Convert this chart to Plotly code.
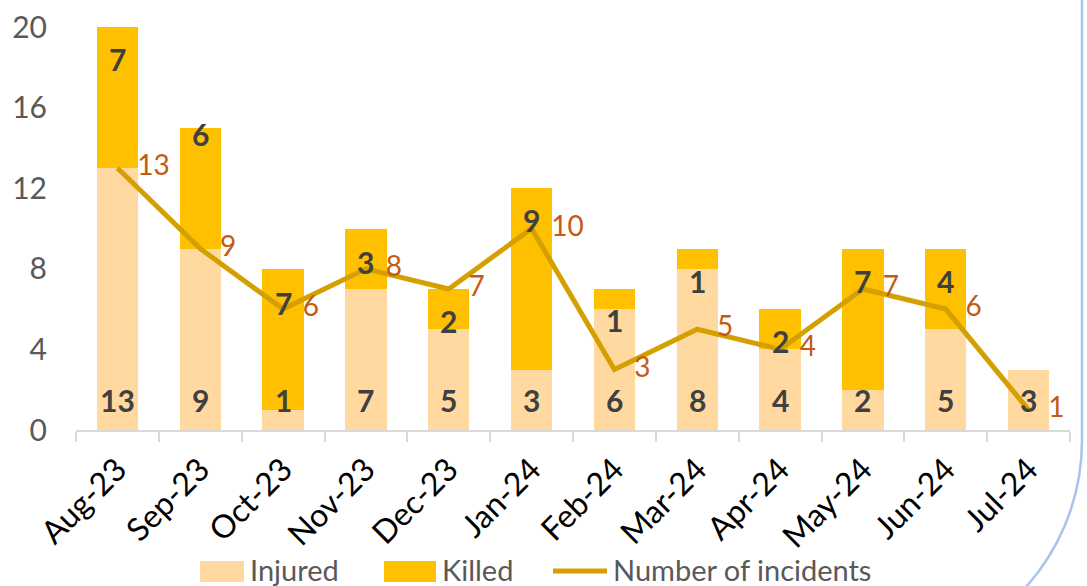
import plotly.graph_objects as go

months = ["Aug-23", "Sep-23", "Oct-23", "Nov-23", "Dec-23", "Jan-24",
          "Feb-24", "Mar-24", "Apr-24", "May-24", "Jun-24", "Jul-24"]
injured = [13, 9, 1, 7, 5, 3, 6, 8, 4, 2, 5, 3]
killed = [7, 6, 7, 3, 2, 9, 1, 1, 2, 7, 4, 0]
incidents = [13, 9, 6, 8, 7, 10, 3, 5, 4, 7, 6, 1]
series_names = ["Injured", "Killed", "Number of incidents"]

# label placement (data units) as in the reference
killed_label_y = [18.4, 14.7, 6.3, 8.35, 5.4, 10.4, 5.45, 7.4, 4.4, 7.4, 7.4, None]
injured_label_y = 1.5

W, H = 1087, 586
ML, MR, MT, MB = 76, 17, 27, 156
PW, PH = W - ML - MR, H - MT - MB

FONT = "Lato"
LABEL_C = "#404040"
C_INJ, C_KIL, C_LINE = "#FFD9A0", "#FFC000", "#D4A000"

fig = go.Figure()
fig.add_trace(go.Bar(x=months, y=injured, name=series_names[0],
                     marker=dict(color=C_INJ, line=dict(width=0))))
fig.add_trace(go.Bar(x=months, y=killed, name=series_names[1],
                     marker=dict(color=C_KIL, line=dict(width=0))))
fig.add_trace(go.Scatter(x=months, y=incidents, name=series_names[2],
                         mode="lines+markers+text",
                         line=dict(color=C_LINE, width=5),
                         marker=dict(size=30, opacity=0, color=C_LINE),
                         text=[str(v) for v in incidents],
                         textposition="middle right",
                         textfont=dict(family=FONT, size=28, color="#C55A11")))

ann = []
for m, v in zip(months, injured):
    ann.append(dict(x=m, y=injured_label_y, text=f"<b>{v}</b>", showarrow=False,
                    font=dict(family=FONT, size=30, color=LABEL_C)))
for m, v, ly in zip(months, killed, killed_label_y):
    if v and ly is not None:
        ann.append(dict(x=m, y=ly, text=f"<b>{v}</b>", showarrow=False,
                        font=dict(family=FONT, size=30, color=LABEL_C)))


def px(xp):
    return (xp - ML) / PW


def py(yp):
    return (H - MB - yp) / PH


# decorative rounded border on the right edge
path = (f"M {px(1082)} {py(-10)} L {px(1082)} {py(440)} "
        f"C {px(1082)} {py(562)} {px(983)} {py(661)} {px(861)} {py(661)}")
shapes = [dict(type="path", xref="paper", yref="paper", path=path,
               line=dict(color="#A9C4EB", width=2.5))]

# custom legend (large swatches like the reference)
LEG_Y = 569
shapes.append(dict(type="rect", xref="paper", yref="paper",
                   x0=px(200), x1=px(244), y0=py(561), y1=py(582),
                   fillcolor=C_INJ, line=dict(width=0)))
shapes.append(dict(type="rect", xref="paper", yref="paper",
                   x0=px(384), x1=px(436), y0=py(561), y1=py(582),
                   fillcolor=C_KIL, line=dict(width=0)))
shapes.append(dict(type="line", xref="paper", yref="paper",
                   x0=px(553), x1=px(607), y0=py(571), y1=py(571),
                   line=dict(color=C_LINE, width=5)))
for name, xl in zip(series_names, [248, 440, 611]):
    ann.append(dict(xref="paper", yref="paper", x=px(xl), y=py(LEG_Y),
                    xanchor="left", yanchor="middle", text=name, showarrow=False,
                    font=dict(family=FONT, size=29, color="#595959")))

fig.update_layout(
    width=W, height=H,
    margin=dict(l=ML, r=MR, t=MT, b=MB, autoexpand=False),
    barmode="stack", bargap=0.5, showlegend=False,
    plot_bgcolor="white", paper_bgcolor="white",
    font=dict(family=FONT, color="#595959"),
    annotations=ann, shapes=shapes,
    xaxis=dict(range=[-0.5, len(months) - 0.5],
               showline=True, linecolor="#D9D9D9", linewidth=2,
               ticks="outside", tickson="boundaries", ticklen=10, tickcolor="#D9D9D9",
               tickwidth=2, tickangle=-45, showgrid=False, automargin=False,
               ticklabelstandoff=6,
               tickfont=dict(family=FONT, size=32, color="#000000")),
    yaxis=dict(range=[0, 20], dtick=4, showgrid=False, zeroline=False,
               showline=False, ticks="", ticklabelstandoff=28, automargin=False,
               tickfont=dict(family=FONT, size=30, color="#595959")),
)

fig.write_html("out.html", config={"displayModeBar": False},
               post_script="document.body.style.margin='0';document.body.style.overflow='hidden';")
